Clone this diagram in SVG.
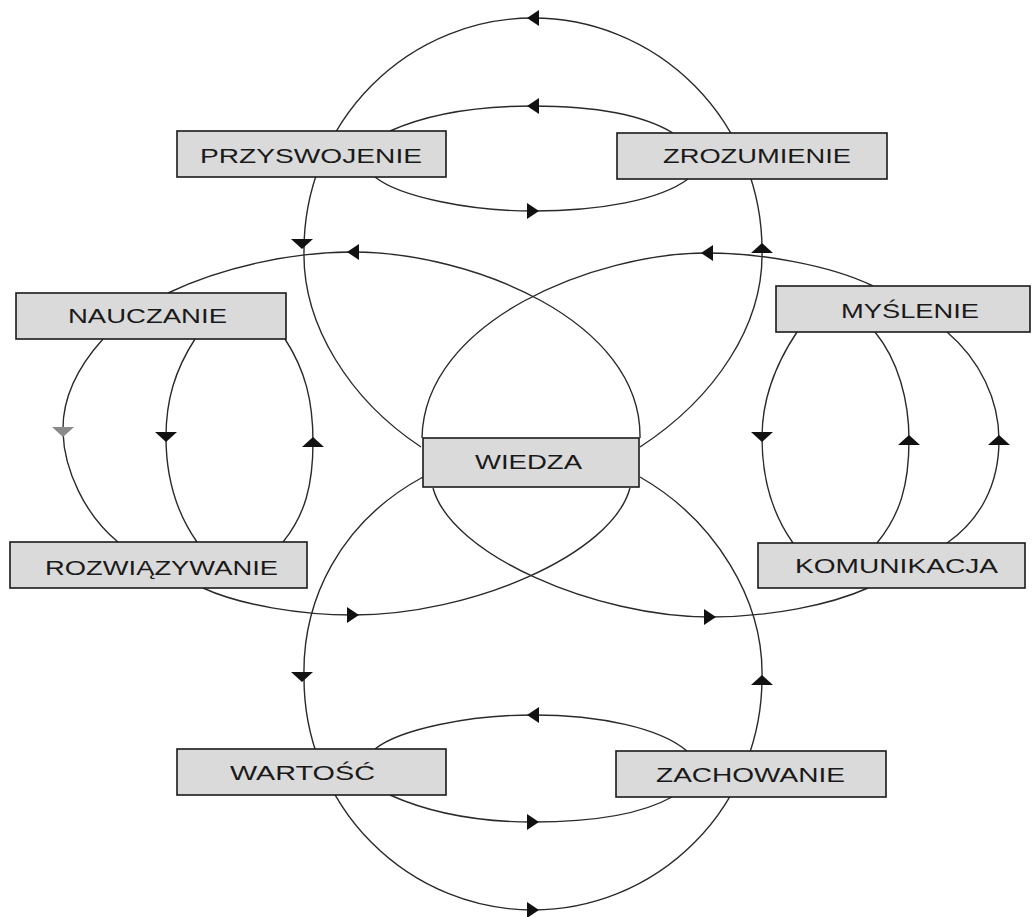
<svg xmlns="http://www.w3.org/2000/svg" xmlns:xlink="http://www.w3.org/1999/xlink" width="1036" height="917" viewBox="0 0 1036 917">
<defs>
<style>
.c{fill:none;stroke:#2a2a2a;stroke-width:1.4}
.a{fill:#111}
.g{fill:#8a8a8a}
.box rect{fill:#dadada;stroke:#1a1a1a;stroke-width:1.6}
.box text{font-family:"Liberation Sans",Arial,sans-serif;font-size:20px;fill:#1a1a1a}
</style>
<path id="ah" d="M6,0 L-6,-8 L-6,8 Z"/>
<path id="av" d="M5,0 L-5,-11 L-5,11 Z"/>
</defs>
<rect width="1036" height="917" fill="#ffffff"/>
<g id="connectors">
<path class="c" d="M640 447 C715 398 764 325 762 250 A229 232 0 0 0 533 18 A229 232 0 0 0 304 250 C302 325 350 400 421 447"/>
<path class="c" d="M423 477 C340 522 302 600 304 678 A229 232 0 0 0 533 910 A229 232 0 0 0 762 678 C764 600 715 520 640 477"/>
<path class="c" d="M390 131 C430 113 480 106 533 106 C590 106 640 113 673 133"/>
<path class="c" d="M375 177 C400 197 470 211 533 211 C600 211 660 200 688 179"/>
<path class="c" d="M375 749 C400 729 470 715 533 715 C600 715 660 728 687 751"/>
<path class="c" d="M390 795 C430 813 480 822 533 822 C590 822 640 815 672 797"/>
<path class="c" d="M168 293 C220 268 290 252 353 252 C470 252 642 320 640 438"/>
<path class="c" d="M873 286 C830 265 760 253 707 253 C596 253 424 320 422 438"/>
<path class="c" d="M203 588 C240 605 300 615 353 615 C470 615 612 555 630 488"/>
<path class="c" d="M868 588 C830 605 770 617 710 617 C596 617 451 555 433 488"/>
<path class="c" d="M103 339 C75 370 62 400 63 432 C64 470 85 515 118 542"/>
<path class="c" d="M195 339 C175 370 166 400 166 437 C166 480 178 515 197 542"/>
<path class="c" d="M285 339 C305 370 313 400 313 442 C313 485 305 515 283 542"/>
<path class="c" d="M797 332 C775 365 762 400 762 437 C762 480 773 515 793 543"/>
<path class="c" d="M875 332 C898 360 909 400 909 440 C909 485 900 515 877 543"/>
<path class="c" d="M947 332 C980 360 999 400 999 440 C999 485 980 520 947 543"/>
<use xlink:href="#ah" class="a" transform="translate(533,18) rotate(180)"/>
<use xlink:href="#av" class="a" transform="translate(302,244) rotate(90)"/>
<use xlink:href="#av" class="a" transform="translate(762,248) rotate(-90)"/>
<use xlink:href="#ah" class="a" transform="translate(533,106) rotate(180)"/>
<use xlink:href="#ah" class="a" transform="translate(533,211)"/>
<use xlink:href="#ah" class="a" transform="translate(353,252) rotate(180)"/>
<use xlink:href="#ah" class="a" transform="translate(707,253) rotate(180)"/>
<use xlink:href="#ah" class="a" transform="translate(353,615)"/>
<use xlink:href="#ah" class="a" transform="translate(710,617)"/>
<use xlink:href="#ah" class="a" transform="translate(533,910)"/>
<use xlink:href="#av" class="a" transform="translate(302,677) rotate(90)"/>
<use xlink:href="#av" class="a" transform="translate(762,680) rotate(-90)"/>
<use xlink:href="#ah" class="a" transform="translate(533,715) rotate(180)"/>
<use xlink:href="#ah" class="a" transform="translate(533,822)"/>
<use xlink:href="#av" class="g" transform="translate(63,432) rotate(90)"/>
<use xlink:href="#av" class="a" transform="translate(166,437) rotate(90)"/>
<use xlink:href="#av" class="a" transform="translate(313,442) rotate(-90)"/>
<use xlink:href="#av" class="a" transform="translate(762,437) rotate(90)"/>
<use xlink:href="#av" class="a" transform="translate(909,440) rotate(-90)"/>
<use xlink:href="#av" class="a" transform="translate(999,440) rotate(-90)"/>
</g>
<g id="przyswojenie" class="box"><rect x="177" y="131" width="269" height="46"/><text x="200" y="163" textLength="222" lengthAdjust="spacingAndGlyphs">PRZYSWOJENIE</text></g>
<g id="zrozumienie" class="box"><rect x="617" y="133" width="270" height="46"/><text x="663" y="163" textLength="188" lengthAdjust="spacingAndGlyphs">ZROZUMIENIE</text></g>
<g id="nauczanie" class="box"><rect x="16" y="293" width="270" height="46"/><text x="68" y="323" textLength="159" lengthAdjust="spacingAndGlyphs">NAUCZANIE</text></g>
<g id="myslenie" class="box"><rect x="776" y="286" width="254" height="46"/><text x="841" y="318" textLength="138" lengthAdjust="spacingAndGlyphs">MYŚLENIE</text></g>
<g id="wiedza" class="box"><rect x="423" y="438" width="216" height="49"/><text x="475" y="469" textLength="107" lengthAdjust="spacingAndGlyphs">WIEDZA</text></g>
<g id="rozwiazywanie" class="box"><rect x="10" y="542" width="297" height="46"/><text x="45" y="575" textLength="233" lengthAdjust="spacingAndGlyphs">ROZWIĄZYWANIE</text></g>
<g id="komunikacja" class="box"><rect x="758" y="543" width="267" height="45"/><text x="795" y="573" textLength="203" lengthAdjust="spacingAndGlyphs">KOMUNIKACJA</text></g>
<g id="wartosc" class="box"><rect x="177" y="749" width="269" height="46"/><text x="230" y="780" textLength="145" lengthAdjust="spacingAndGlyphs">WARTOŚĆ</text></g>
<g id="zachowanie" class="box"><rect x="616" y="751" width="270" height="46"/><text x="656" y="782" textLength="189" lengthAdjust="spacingAndGlyphs">ZACHOWANIE</text></g>
</svg>
